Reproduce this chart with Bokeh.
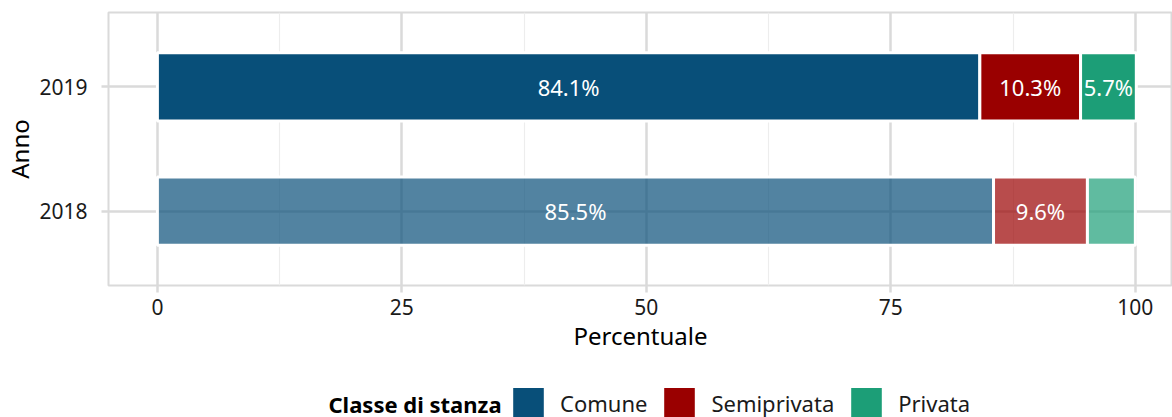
import numpy as np
from bokeh.plotting import figure
from bokeh.layouts import column
from bokeh.models import (Range1d, FixedTicker, ColumnDataSource, Legend,
                          LegendItem, Label)
from bokeh.embed import file_html
from bokeh.resources import INLINE
from bokeh.core.properties import value

# ---- data ----
years = ["2018", "2019"]
classes = ["Comune", "Semiprivata", "Privata"]
comune = [85.5, 84.1]
semiprivata = [9.6, 10.3]
privata = [4.9, 5.7]
x_ticks = [0, 25, 50, 75, 100]
x_minor = [12.5, 37.5, 62.5, 87.5]

colors = ["#084f79", "#9a0000", "#1c9e77"]
year_alpha = {"2018": 0.7, "2019": 1.0}

FONT = "Noto Sans"
GRID = "#dadada"
W = 1172
H_MAIN = 365
H_LEG = 417 - H_MAIN
FRAME_LEFT = 108

p = figure(width=W, height=H_MAIN, output_backend="svg", toolbar_location=None,
           x_range=Range1d(-5, 103.8), y_range=Range1d(0.4, 2.6),
           min_border_left=FRAME_LEFT, min_border_right=0, min_border_top=12,
           min_border_bottom=H_MAIN - 285)
p.background_fill_color = "white"
p.border_fill_color = "white"
p.outline_line_color = GRID
p.outline_line_width = 2

vals = np.array([comune, semiprivata, privata])  # shape (3, 2)
ypos = np.arange(1, len(years) + 1)
lefts = np.vstack([np.zeros(len(years)), np.cumsum(vals, axis=0)[:-1]])
rights = lefts + vals

for ci, cls in enumerate(classes):
    for yi, yr in enumerate(years):
        src = ColumnDataSource(dict(y=[ypos[yi]], left=[lefts[ci, yi]],
                                    right=[rights[ci, yi]]))
        p.hbar(y="y", left="left", right="right", height=0.55, source=src,
               fill_color=colors[ci], fill_alpha=year_alpha[yr],
               line_color="white", line_width=3)

# labels (only segments >= 5%)
lx, ly, lt = [], [], []
for ci in range(len(classes)):
    for yi in range(len(years)):
        v = vals[ci, yi]
        if v >= 5:
            lx.append((lefts[ci, yi] + rights[ci, yi]) / 2)
            ly.append(ypos[yi])
            lt.append(f"{v:.1f}%")
p.text(x=lx, y=ly, text=lt, text_color="white", text_align="center",
       text_baseline="middle", text_font=value(FONT), text_font_size="22px")

# axes
p.xaxis.ticker = FixedTicker(ticks=x_ticks, minor_ticks=x_minor)
p.yaxis.ticker = FixedTicker(ticks=list(ypos))
p.yaxis.major_label_overrides = {int(k): v for k, v in zip(ypos, years)}
p.xaxis.axis_label = "Percentuale"
p.yaxis.axis_label = "Anno"
for ax in (p.xaxis, p.yaxis):
    ax.axis_line_color = None
    ax.major_tick_line_color = GRID
    ax.major_tick_line_width = 2.5
    ax.major_tick_in = 0
    ax.major_tick_out = 7
    ax.minor_tick_line_color = None
    ax.major_label_text_font = FONT
    ax.major_label_text_font_size = "21px"
    ax.major_label_text_color = "#1a1a1a"
    ax.axis_label_text_font = FONT
    ax.axis_label_text_font_size = "24px"
    ax.axis_label_text_font_style = "normal"
    ax.axis_label_text_color = "black"
p.xaxis.major_label_standoff = 6
p.xaxis.axis_label_standoff = 1
p.yaxis.major_label_standoff = 14
p.yaxis.axis_label_standoff = 0

p.xgrid.grid_line_color = GRID
p.xgrid.grid_line_width = 2.5
p.xgrid.minor_grid_line_color = "#ededed"
p.xgrid.minor_grid_line_width = 1.2
p.ygrid.grid_line_color = GRID
p.ygrid.grid_line_width = 2.5

# ---- legend strip (separate canvas so nothing is clipped) ----
lg = figure(width=W, height=H_LEG, output_backend="svg", toolbar_location=None,
            x_range=Range1d(0, 1), y_range=Range1d(0, 1),
            x_axis_location=None, y_axis_location=None,
            min_border=0, min_border_left=0, min_border_right=0,
            min_border_top=0, min_border_bottom=0)
lg.outline_line_color = None
lg.xgrid.visible = False
lg.ygrid.visible = False
lg.background_fill_color = "white"
lg.border_fill_color = "white"

items = []
for ci, cls in enumerate(classes):
    r = lg.hbar(y=[ypos[-1]], left=[lefts[ci, -1]], right=[rights[ci, -1]],
                height=0.55, fill_color=colors[ci], line_color="white",
                line_width=3, visible=False)
    items.append(LegendItem(label=cls, renderers=[r]))

# the column aligns this strip's frame with the main frame (left = FRAME_LEFT)
legend = Legend(items=items, orientation="horizontal",
                location=(507 - FRAME_LEFT, -6),
                glyph_width=42, glyph_height=41, label_standoff=11,
                spacing=11, padding=0, margin=0, border_line_color=None,
                background_fill_alpha=0, label_text_font=FONT,
                label_text_font_size="22px", label_text_color="#1a1a1a",
                label_height=41, click_policy="none")
lg.add_layout(legend, "center")

title = Label(x=328 - FRAME_LEFT, y=14, x_units="screen", y_units="screen",
              text="Classe di stanza", text_font=FONT, text_font_size="22px",
              text_font_style="bold", text_baseline="middle",
              text_color="black")
lg.add_layout(title)

layout = column(p, lg, spacing=0)
open("out.html", "w").write(file_html(layout, INLINE))
